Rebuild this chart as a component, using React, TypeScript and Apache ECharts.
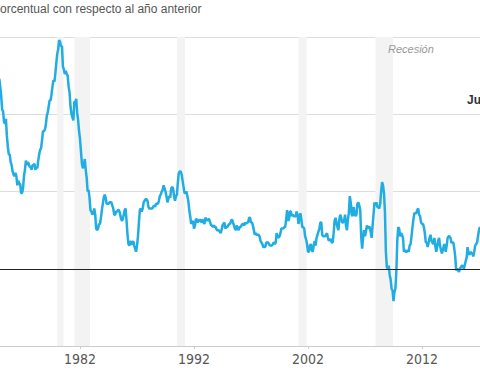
import React, { useEffect, useRef } from "react";
import * as echarts from "echarts";

// Variación porcentual anual del IPC (mensual). Each array starts in January of its first year.
const cpiDec1974 = [12.3];
const cpi1975to1979 = [
  11.8, 11.2, 10.3, 10.2, 9.5, 9.4, 9.7, 8.6, 7.9, 7.4, 7.4, 6.9,
  6.7, 6.3, 6.1, 6.0, 6.2, 6.0, 5.4, 5.7, 5.5, 5.5, 4.9, 4.9,
  5.2, 6.0, 6.4, 7.0, 6.7, 6.9, 6.8, 6.6, 6.6, 6.4, 6.7, 6.7,
  6.8, 6.4, 6.6, 6.5, 7.0, 7.4, 7.7, 7.8, 8.3, 8.9, 8.9, 9.0,
  9.3, 9.9, 10.1, 10.5, 10.9, 10.9, 11.3, 11.8, 12.2, 12.1, 12.6, 13.3,
];
const cpi1980to1984 = [
  13.9, 14.2, 14.8, 14.7, 14.4, 14.4, 13.1, 12.9, 12.6, 12.8, 12.6, 12.5,
  11.8, 11.4, 10.5, 10.0, 9.8, 9.6, 10.8, 10.8, 11.0, 10.1, 9.6, 8.9,
  8.4, 7.6, 6.8, 6.5, 6.7, 7.1, 6.4, 5.9, 5.0, 5.1, 4.6, 3.8,
  3.7, 3.5, 3.6, 3.9, 3.5, 2.6, 2.5, 2.6, 2.9, 2.9, 3.3, 3.8,
  4.2, 4.6, 4.8, 4.6, 4.2, 4.2, 4.2, 4.3, 4.3, 4.3, 4.1, 3.9,
];
const cpi1985to1989 = [
  3.5, 3.5, 3.7, 3.7, 3.8, 3.8, 3.6, 3.3, 3.1, 3.2, 3.5, 3.8,
  3.9, 3.1, 2.2, 1.6, 1.5, 1.8, 1.6, 1.6, 1.8, 1.5, 1.3, 1.1,
  1.5, 2.1, 3.0, 3.8, 3.9, 3.7, 3.9, 4.3, 4.4, 4.5, 4.5, 4.4,
  4.0, 3.9, 3.9, 3.9, 3.9, 4.0, 4.1, 4.0, 4.2, 4.2, 4.2, 4.4,
  4.7, 4.8, 5.0, 5.1, 5.4, 5.2, 5.0, 4.7, 4.3, 4.5, 4.7, 4.6,
];
const cpi1990to1994 = [
  5.2, 5.3, 5.2, 4.7, 4.4, 4.7, 4.8, 5.6, 6.2, 6.3, 6.3, 6.1,
  5.7, 5.3, 4.9, 4.9, 5.0, 4.7, 4.4, 3.8, 3.4, 2.9, 3.0, 3.1,
  2.6, 2.8, 3.2, 3.2, 3.0, 3.1, 3.2, 3.1, 3.0, 3.2, 3.0, 2.9,
  3.3, 3.2, 3.1, 3.2, 3.2, 3.0, 2.8, 2.8, 2.7, 2.8, 2.7, 2.7,
  2.5, 2.5, 2.5, 2.4, 2.3, 2.5, 2.8, 2.9, 3.0, 2.6, 2.7, 2.7,
];
const cpi1995to1999 = [
  2.8, 2.9, 2.9, 3.1, 3.2, 3.0, 2.8, 2.6, 2.5, 2.8, 2.6, 2.5,
  2.7, 2.7, 2.8, 2.9, 2.9, 2.8, 3.0, 2.9, 3.0, 3.0, 3.3, 3.3,
  3.0, 3.0, 2.8, 2.5, 2.2, 2.3, 2.2, 2.2, 2.2, 2.1, 1.8, 1.7,
  1.6, 1.4, 1.4, 1.4, 1.7, 1.7, 1.7, 1.6, 1.5, 1.5, 1.5, 1.6,
  1.7, 1.6, 1.7, 2.3, 2.1, 2.0, 2.1, 2.3, 2.6, 2.6, 2.6, 2.7,
];
const cpi2000to2004 = [
  2.7, 3.2, 3.8, 3.1, 3.2, 3.7, 3.7, 3.4, 3.5, 3.4, 3.4, 3.4,
  3.7, 3.5, 2.9, 3.3, 3.6, 3.2, 2.7, 2.7, 2.6, 2.1, 1.9, 1.6,
  1.1, 1.1, 1.5, 1.6, 1.2, 1.1, 1.5, 1.8, 1.5, 2.0, 2.2, 2.4,
  2.6, 3.0, 3.0, 2.2, 2.1, 2.1, 2.1, 2.2, 2.3, 2.0, 1.8, 1.9,
  1.9, 1.7, 1.7, 2.3, 3.1, 3.3, 3.0, 2.7, 2.5, 3.2, 3.5, 3.3,
];
const cpi2005to2009 = [
  3.0, 3.0, 3.1, 3.5, 2.8, 2.5, 3.2, 3.6, 4.7, 4.3, 3.5, 3.4,
  4.0, 3.6, 3.4, 3.5, 4.2, 4.3, 4.1, 3.8, 2.1, 1.3, 2.0, 2.5,
  2.1, 2.4, 2.8, 2.6, 2.7, 2.7, 2.4, 2.0, 2.8, 3.5, 4.3, 4.1,
  4.3, 4.0, 4.0, 3.9, 4.2, 5.0, 5.6, 5.4, 4.9, 3.7, 1.1, 0.1,
  0.0, 0.2, -0.4, -0.7, -1.3, -1.4, -2.1, -1.5, -1.3, -0.2, 1.8, 2.7,
];
const cpi2010to2014 = [
  2.6, 2.1, 2.3, 2.2, 2.0, 1.1, 1.2, 1.1, 1.1, 1.2, 1.1, 1.5,
  1.6, 2.1, 2.7, 3.2, 3.6, 3.6, 3.6, 3.8, 3.9, 3.5, 3.4, 3.0,
  2.9, 2.9, 2.7, 2.3, 1.7, 1.7, 1.4, 1.7, 2.0, 2.2, 1.8, 1.7,
  1.6, 2.0, 1.5, 1.1, 1.4, 1.8, 2.0, 1.5, 1.2, 1.0, 1.2, 1.5,
  1.6, 1.1, 1.5, 2.0, 2.1, 2.1, 2.0, 1.7, 1.7, 1.7, 1.3, 0.8,
];
const cpi2015to2017 = [
  -0.1, 0.0, -0.1, -0.2, 0.0, 0.1, 0.2, 0.2, 0.0, 0.2, 0.5, 0.7,
  1.4, 1.0, 0.9, 1.1, 1.0, 1.0, 0.8, 1.1, 1.5, 1.6, 1.7, 2.1,
  2.5, 2.7, 2.4,
];

const recessions: [number, number][] = [
  [1980.0, 1980.55],
  [1981.5, 1982.88],
  [1990.5, 1991.2],
  [2001.17, 2001.88],
  [2007.92, 2009.45],
];

const tickYears = [1982, 1992, 2002, 2012];

const titleText = "orcentual con respecto al año anterior";
const recessionLabel = "Recesión";
const endLabel = "Ju";

function buildPoints(): [number, number][] {
  const pts: [number, number][] = [];
  cpiDec1974.forEach((v) => pts.push([1974 + 11 / 12, v]));
  const blocks: [number, number[]][] = [
    [1975, cpi1975to1979],
    [1980, cpi1980to1984],
    [1985, cpi1985to1989],
    [1990, cpi1990to1994],
    [1995, cpi1995to1999],
    [2000, cpi2000to2004],
    [2005, cpi2005to2009],
    [2010, cpi2010to2014],
    [2015, cpi2015to2017],
  ];
  blocks.forEach(([start, arr]) => {
    arr.forEach((v, i) => pts.push([start + i / 12, v]));
  });
  return pts;
}

export default function App() {
  const ref = useRef<HTMLDivElement>(null);

  useEffect(() => {
    document.body.style.margin = "0";
    if (!ref.current) return;
    const chart = echarts.init(ref.current, undefined, { renderer: "svg" });
    const font = "Arial, 'Liberation Sans', Helvetica, sans-serif";
    chart.setOption({
      animation: false,
      grid: { left: 0, right: 0, top: 37, bottom: 38 },
      xAxis: {
        type: "value",
        min: 1974.98,
        max: 2017.09,
        splitLine: { show: false },
        axisLine: { show: true, onZero: false, lineStyle: { color: "#cccccc", width: 1 } },
        axisTick: {
          show: true,
          customValues: tickYears,
          length: 3,
          lineStyle: { color: "#cccccc" },
        },
        axisLabel: {
          customValues: tickYears,
          formatter: (v: number) => String(Math.round(v)),
          color: "#555555",
          fontSize: 14,
          margin: 6,
          fontFamily: "'Liberation Sans Narrow', 'DejaVu Sans Condensed', 'Roboto', sans-serif",
        },
      },
      yAxis: {
        type: "value",
        min: -5,
        max: 15,
        interval: 5,
        axisLabel: { show: false },
        axisLine: { show: false },
        axisTick: { show: false },
        splitLine: { show: true, lineStyle: { color: "#dddddd", width: 1 } },
      },
      series: [
        {
          type: "line",
          data: [],
          silent: true,
          z: 1,
          markArea: {
            silent: true,
            itemStyle: { color: "#f3f3f3" },
            data: recessions.map(([a, b]) => [{ xAxis: a }, { xAxis: b }]),
          },
          markLine: {
            silent: true,
            symbol: "none",
            label: { show: false },
            lineStyle: { color: "#222222", width: 1, type: "solid" },
            data: [{ yAxis: 0 }],
          },
        },
        {
          type: "line",
          data: buildPoints(),
          showSymbol: false,
          symbol: "none",
          clip: true,
          z: 3,
          lineStyle: { color: "#22ade2", width: 2.5 },
        },
      ],
      graphic: [
        {
          type: "text",
          left: 0,
          top: 3,
          style: { text: titleText, fontSize: 12, fill: "#555555", fontFamily: font },
        },
        {
          type: "text",
          x: 388,
          y: 49,
          z: 10,
          style: {
            text: recessionLabel,
            fontSize: 11,
            fontStyle: "italic",
            fill: "#999999",
            fontFamily: font,
            verticalAlign: "middle",
          },
        },
        {
          type: "text",
          x: 467,
          y: 100,
          style: {
            text: endLabel,
            fontSize: 12,
            fontWeight: "bold",
            fill: "#333333",
            fontFamily: font,
            verticalAlign: "middle",
          },
        },
      ],
    });
    return () => chart.dispose();
  }, []);

  return <div ref={ref} style={{ width: 480, height: 384 }} />;
}
